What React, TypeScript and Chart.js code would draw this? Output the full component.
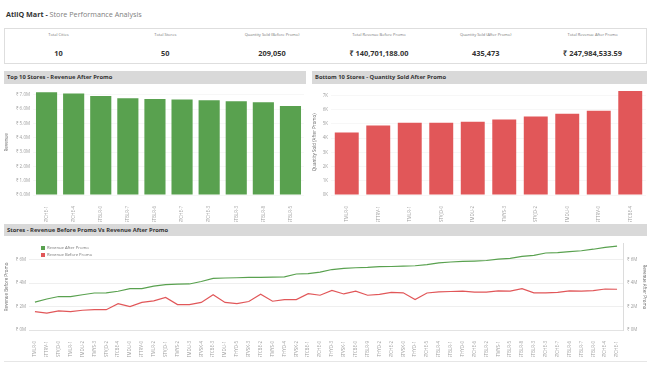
import React, { useEffect, useRef } from "react";
import { Chart, registerables } from "chart.js";
Chart.register(...registerables);

// ---------- DATA ----------
const kpiLabels = [
  "Total Cities",
  "Total Stores",
  "Quantity Sold (Before Promo)",
  "Total Revenue Before Promo",
  "Quantity Sold (After Promo)",
  "Total Revenue After Promo",
];
const kpiValues = ["10", "50", "209,050", "₹ 140,701,188.00", "435,473", "₹ 247,984,533.59"];

const top10Stores = ["STCHE-1", "STCHE-4", "STBLR-0", "STBLR-7", "STBLR-6", "STCHE-7", "STCHE-3", "STBLR-3", "STBLR-8", "STBLR-5"];
const top10RevenueM = [7.17, 7.09, 6.91, 6.76, 6.7, 6.66, 6.62, 6.55, 6.48, 6.22];

const bottom10Stores = ["STMLR-0", "STTRV-1", "STMLR-1", "STVJD-0", "STMDU-2", "STMYS-3", "STVJD-2", "STMDU-0", "STTRV-0", "STCBE-4"];
const bottom10QtyK = [4.39, 4.89, 5.07, 5.07, 5.14, 5.3, 5.51, 5.71, 5.92, 7.3];

const allStores = [
  "STMLR-0", "STTRV-1", "STVJD-0", "STMLR-1", "STMDU-2", "STMYS-3", "STVJD-2", "STCBE-4", "STMDU-0", "STTRV-0",
  "STMLR-2", "STVJD-1", "STMYS-2", "STMDU-3", "STVSK-4", "STCBE-3", "STMDU-1", "STHYD-5", "STVSK-3", "STCBE-2",
  "STMYS-0", "STHYD-4", "STVSK-2", "STCBE-1", "STCHE-0", "STHYD-3", "STVSK-1", "STCBE-0", "STBLR-9", "STHYD-2",
  "STCHE-2", "STVSK-0", "STHYD-1", "STCHE-5", "STBLR-4", "STBLR-1", "STHYD-0", "STCHE-6", "STBLR-2", "STMYS-1",
  "STBLR-5", "STBLR-8", "STBLR-3", "STCHE-3", "STCHE-7", "STBLR-6", "STBLR-7", "STBLR-0", "STCHE-4", "STCHE-1",
];
const revenueAfterM = [
  2.37, 2.64, 2.85, 2.85, 3.0, 3.15, 3.17, 3.3, 3.52, 3.52,
  3.73, 3.87, 3.9, 3.92, 4.13, 4.4, 4.43, 4.45, 4.48, 4.48,
  4.5, 4.53, 4.77, 4.8, 4.93, 5.15, 5.25, 5.3, 5.33, 5.39,
  5.41, 5.44, 5.47, 5.57, 5.71, 5.79, 5.84, 5.87, 5.92, 6.03,
  6.1, 6.27, 6.35, 6.56, 6.59, 6.67, 6.75, 6.88, 7.04, 7.15,
];
const revenueBeforeM = [
  1.57, 1.44, 1.63, 1.57, 1.68, 1.73, 1.73, 2.24, 2.0, 2.35,
  2.48, 2.77, 2.16, 2.16, 2.35, 3.01, 2.35, 2.24, 2.43, 3.04,
  2.45, 2.59, 2.59, 3.09, 2.96, 3.37, 3.07, 3.31, 2.96, 3.04,
  3.2, 3.17, 2.59, 3.15, 3.25, 3.28, 3.31, 3.23, 3.23, 3.33,
  3.31, 3.52, 3.17, 3.17, 3.2, 3.33, 3.31, 3.36, 3.49, 3.47,
];

// ---------- STYLE ----------
const FONT = "'Open Sans', 'Noto Sans', sans-serif";
const GREEN = "#59a14f";
const RED = "#e15759";
const TICK = "#a0a0a0";
const HEADER_BG = "#d9d9d9";

function ChartCanvas({ width, height, config, style }: any) {
  const ref = useRef<HTMLCanvasElement | null>(null);
  useEffect(() => {
    const chart = new Chart(ref.current as HTMLCanvasElement, config);
    return () => chart.destroy();
  }, []);
  return <canvas ref={ref} width={width} height={height} style={{ position: "absolute", width, height, ...style }} />;
}

const tickFont = { family: FONT, size: 4.5 };
const titleFont = { family: FONT, size: 4.5 };

const top10Config: any = {
  type: "bar",
  data: {
    labels: top10Stores,
    datasets: [{ data: top10RevenueM, backgroundColor: GREEN, barPercentage: 0.78, categoryPercentage: 1 }],
  },
  options: {
    animation: false,
    responsive: false,
    layout: { padding: { top: 4, right: 2, left: 0, bottom: 0 } },
    plugins: { legend: { display: false }, tooltip: { enabled: false } },
    scales: {
      x: {
        grid: { display: false },
        border: { display: false },
        ticks: { font: tickFont, color: TICK, maxRotation: 90, minRotation: 90, autoSkip: false, padding: 3 },
        afterFit: (s: any) => { s.height = 27; },
      },
      y: {
        min: 0,
        max: 7.35,
        ticks: {
          stepSize: 1,
          includeBounds: false,
          font: tickFont,
          color: TICK,
          padding: 3,
          callback: (v: any) => `₹ ${Number(v).toFixed(1)}M`,
        },
        grid: { color: "#f7f7f7", drawTicks: false },
        border: { display: false },
        title: { display: true, text: "Revenue", font: titleFont, color: "#666", padding: 0 },
        afterFit: (s: any) => { s.width = 29; },
      },
    },
  },
};

const bottom10Config: any = {
  type: "bar",
  data: {
    labels: bottom10Stores,
    datasets: [{ data: bottom10QtyK, backgroundColor: RED, barPercentage: 0.76, categoryPercentage: 1 }],
  },
  options: {
    animation: false,
    responsive: false,
    layout: { padding: { top: 4, right: 1, left: 0, bottom: 0 } },
    plugins: { legend: { display: false }, tooltip: { enabled: false } },
    scales: {
      x: {
        grid: { display: false },
        border: { display: false },
        ticks: { font: tickFont, color: TICK, maxRotation: 90, minRotation: 90, autoSkip: false, padding: 3 },
        afterFit: (s: any) => { s.height = 27; },
      },
      y: {
        min: 0,
        max: 7.4,
        ticks: {
          stepSize: 1,
          includeBounds: false,
          font: tickFont,
          color: TICK,
          padding: 3,
          callback: (v: any) => `${Number(v).toFixed(0)}K`,
        },
        grid: { color: "#f7f7f7", drawTicks: false },
        border: { display: false },
        title: { display: true, text: "Quantity Sold (After Promo)", font: titleFont, color: "#666", padding: 0 },
        afterFit: (s: any) => { s.width = 19; },
      },
    },
  },
};

const lineConfig: any = {
  type: "line",
  data: {
    labels: allStores,
    datasets: [
      { label: "Revenue After Promo", data: revenueAfterM, borderColor: GREEN, borderWidth: 1.2, pointRadius: 0, tension: 0, yAxisID: "y1" },
      { label: "Revenue Before Promo", data: revenueBeforeM, borderColor: RED, borderWidth: 1.2, pointRadius: 0, tension: 0, yAxisID: "y" },
    ],
  },
  options: {
    animation: false,
    responsive: false,
    layout: { padding: { top: 3, right: 0, left: 0, bottom: 0 } },
    plugins: { legend: { display: false }, tooltip: { enabled: false } },
    scales: {
      x: {
        offset: true,
        grid: { display: false },
        border: { display: true, color: "#e3e3e3" },
        ticks: { font: tickFont, color: TICK, maxRotation: 90, minRotation: 90, autoSkip: false, padding: 3 },
        afterFit: (s: any) => { s.height = 27; },
      },
      y: {
        position: "left",
        min: 0,
        max: 7.35,
        ticks: { stepSize: 2, includeBounds: false, font: tickFont, color: TICK, padding: 3, callback: (v: any) => `₹ ${v}M` },
        grid: { color: "#efefef", drawTicks: false },
        border: { display: false },
        title: { display: true, text: "Revenue Before Promo", font: titleFont, color: "#666", padding: 0 },
        afterFit: (s: any) => { s.width = 25; },
      },
      y1: {
        position: "right",
        min: 0,
        max: 7.35,
        ticks: { stepSize: 2, includeBounds: false, font: tickFont, color: TICK, padding: 4, callback: (v: any) => `₹ ${v}M` },
        grid: { display: false, drawTicks: false },
        border: { display: true, color: "#dcdcdc" },
        title: { display: true, text: "Revenue After Promo", font: titleFont, color: "#666", padding: 0 },
        afterFit: (s: any) => { s.width = 24; },
      },
    },
  },
};

function Header({ left, top, width, height, text }: any) {
  return (
    <div
      style={{
        position: "absolute",
        left,
        top,
        width,
        height,
        background: HEADER_BG,
        fontFamily: FONT,
        fontWeight: 700,
        fontSize: 5.8,
        color: "#333",
        lineHeight: `${height}px`,
        paddingLeft: 3,
        boxSizing: "border-box",
        whiteSpace: "nowrap",
      }}
    >
      {text}
    </div>
  );
}

export default function App() {
  return (
    <div style={{ position: "absolute", left: 0, top: 0, width: 650, height: 366, background: "#fff", overflow: "hidden", fontFamily: FONT }}>
      <div style={{ position: "absolute", left: 6, top: 9, fontSize: 7.2, whiteSpace: "nowrap", lineHeight: "10px" }}>
        <span style={{ fontWeight: 700, color: "#333" }}>AtliQ Mart - </span>
        <span style={{ color: "#808080" }}>Store Performance Analysis</span>
      </div>

      <div
        style={{
          position: "absolute",
          left: 4,
          top: 28,
          width: 643,
          height: 36,
          border: "1px solid #dedede",
          boxSizing: "border-box",
          display: "flex",
        }}
      >
        {kpiLabels.map((l, i) => (
          <div key={l} style={{ flex: 1, position: "relative", textAlign: "center" }}>
            <div style={{ position: "absolute", left: 0, right: 0, top: 3, fontSize: 4, color: "#777", lineHeight: "6px" }}>{l}</div>
            <div style={{ position: "absolute", left: 0, right: 0, top: 19, fontSize: 7.4, fontWeight: 700, color: "#333", lineHeight: "10px" }}>{kpiValues[i]}</div>
          </div>
        ))}
      </div>

      <Header left={4} top={71} width={302} height={13} text="Top 10 Stores - Revenue After Promo" />
      <Header left={312} top={71} width={335} height={13} text="Bottom 10 Stores - Quantity Sold After Promo" />
      <ChartCanvas width={302} height={138} config={top10Config} style={{ left: 4, top: 84 }} />
      <ChartCanvas width={335} height={138} config={bottom10Config} style={{ left: 312, top: 84 }} />

      <Header left={4} top={224} width={643} height={12} text="Stores - Revenue Before Promo Vs Revenue After Promo" />
      <ChartCanvas width={643} height={120} config={lineConfig} style={{ left: 4, top: 237 }} />
      <div style={{ position: "absolute", left: 4, top: 361, width: 643, height: 1, background: "#e6e6e6" }} />

      <div style={{ position: "absolute", left: 41, top: 244, fontSize: 4.2, color: "#777", lineHeight: "7px", whiteSpace: "nowrap" }}>
        <div style={{ display: "flex", alignItems: "center" }}>
          <span style={{ display: "inline-block", width: 4, height: 4, background: GREEN, marginRight: 2 }} />
          Revenue After Promo
        </div>
        <div style={{ display: "flex", alignItems: "center" }}>
          <span style={{ display: "inline-block", width: 4, height: 4, background: RED, marginRight: 2 }} />
          Revenue Before Promo
        </div>
      </div>
    </div>
  );
}
